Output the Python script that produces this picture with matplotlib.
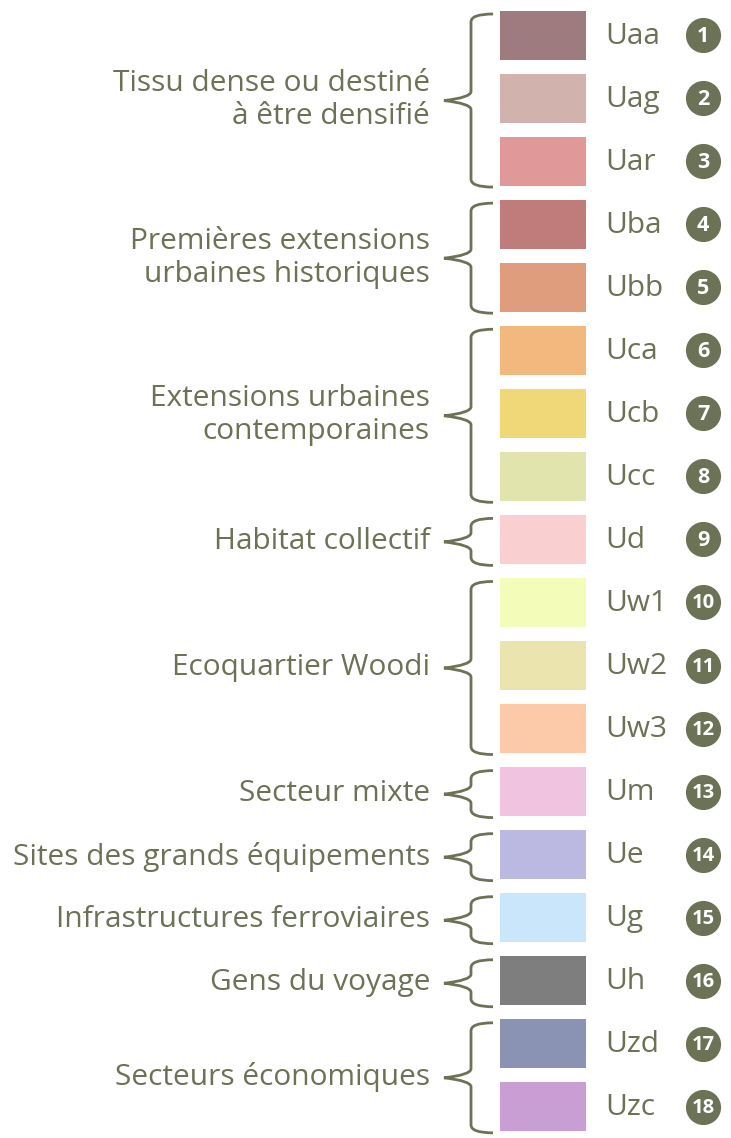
import numpy as np
import matplotlib.pyplot as plt
from matplotlib.path import Path
from matplotlib.patches import PathPatch, Rectangle

# zone codes, swatch colours
codes = ['Uaa', 'Uag', 'Uar', 'Uba', 'Ubb', 'Uca', 'Ucb', 'Ucc', 'Ud',
         'Uw1', 'Uw2', 'Uw3', 'Um', 'Ue', 'Ug', 'Uh', 'Uzd', 'Uzc']
colors = ['#9e7b7f', '#d1b2ac', '#e09898', '#c07b7b', '#e09d7e', '#f2b87d',
          '#f0d878', '#e2e4ae', '#f9cfd0', '#f3fcb8', '#ebe4ae', '#fdcaa9',
          '#f0c4e0', '#bbb8e2', '#c9e6fb', '#7e7e7e', '#8a93b4', '#c99ed4']
numbers = [str(i + 1) for i in range(len(codes))]

# groups: label, first row, last row
group_labels = ['Tissu dense ou destiné\nà être densifié',
                'Premières extensions\nurbaines historiques',
                'Extensions urbaines\ncontemporaines',
                'Habitat collectif',
                'Ecoquartier Woodi',
                'Secteur mixte',
                'Sites des grands équipements',
                'Infrastructures ferroviaires',
                'Gens du voyage',
                'Secteurs économiques']
group_first = [0, 3, 5, 8, 9, 12, 13, 14, 15, 16]
group_last = [2, 4, 7, 8, 11, 12, 13, 14, 15, 17]

olive = '#6b7256'
plt.rcParams['font.family'] = ['Open Sans', 'DejaVu Sans']

fig = plt.figure(figsize=(7.31, 11.38), dpi=100)
ax = fig.add_axes([0, 0, 1, 1])
ax.set_xlim(0, 731)
row_px = 63.05
ax.set_ylim((1138 - 35) / row_px, -35 / row_px)
ax.axis('off')

px = 1 / row_px  # one pixel in row units

for i, (c, code, n) in enumerate(zip(colors, codes, numbers)):
    ax.add_patch(Rectangle((500, i - 24.5 * px), 86, 49 * px, facecolor=c, edgecolor='none'))
    ax.text(605, i + 1 * px, code, ha='left', va='center', fontsize=21.5, color=olive)
    ax.scatter([703], [i], s=640, color=olive, zorder=3, lw=0)
    ax.text(703, i + 1 * px, n, ha='center', va='center',
            fontsize=15.5 if len(n) == 1 else 14.5,
            color='white', fontweight='bold', zorder=4)


def brace(y0, y1):
    ym = (y0 + y1) / 2
    xv, xe, xt = 471, 493, 444
    r = 8 * px
    verts = [(xe, y0), (xv, y0), (xv, y0 + r),
             (xv, ym - 9 * px), (xv, ym - 3 * px), (xt, ym),
             (xv, ym + 3 * px), (xv, ym + 9 * px),
             (xv, y1 - r), (xv, y1), (xe, y1)]
    codes_ = [Path.MOVETO, Path.CURVE3, Path.CURVE3,
              Path.LINETO, Path.CURVE3, Path.CURVE3,
              Path.CURVE3, Path.CURVE3,
              Path.LINETO, Path.CURVE3, Path.CURVE3]
    ax.add_patch(PathPatch(Path(verts, codes_), facecolor='none', edgecolor=olive, lw=2))


for lab, f, l in zip(group_labels, group_first, group_last):
    y0 = f - 21 * px
    y1 = l + 26 * px
    brace(y0, y1)
    ax.text(430, (f + l) / 2 + 2 * px, lab, ha='right', va='center', fontsize=21.5,
            color=olive, linespacing=1.18)

fig.savefig('out.png', dpi=100)
